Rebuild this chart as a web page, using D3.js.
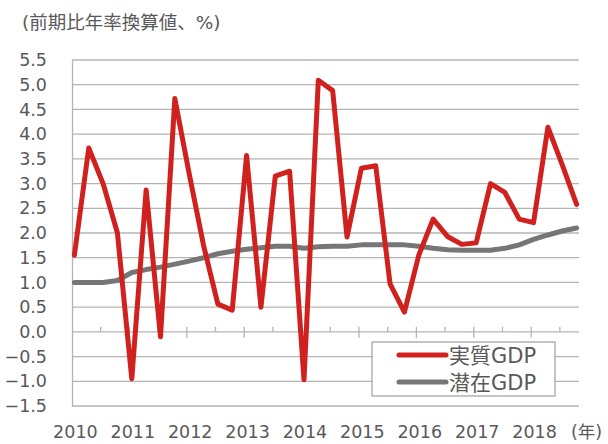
<!DOCTYPE html>
<html>
<head>
<meta charset="utf-8">
<script src="https://cdn.jsdelivr.net/npm/d3@7"></script>
<style>
  body { margin: 0; background: #fff; }
  svg { display: block; }
</style>
</head>
<body>
<div id="chart"></div>
<script>
// Data
//-------------------------------------------------------
// quarterly, 2010Q1 .. 2018Q4
var years = ["2010", "2011", "2012", "2013", "2014", "2015", "2016", "2017", "2018"];
var realGDP = [
    1.55, 3.72, 3.0, 2.0,
    -0.95, 2.87, -0.1, 4.72,
    3.2, 1.75, 0.56, 0.44,
    3.57, 0.5, 3.15, 3.25,
    -0.97, 5.09, 4.88, 1.92,
    3.31, 3.36, 0.97, 0.4,
    1.55, 2.28, 1.93, 1.77,
    1.8, 3.0, 2.82, 2.28,
    2.21, 4.14, 3.38, 2.58
];
var potentialGDP = [
    1.0, 1.0, 1.0, 1.04,
    1.2, 1.26, 1.31, 1.37,
    1.43, 1.5, 1.58, 1.63,
    1.67, 1.7, 1.73, 1.73,
    1.69, 1.72, 1.73, 1.73,
    1.76, 1.76, 1.76, 1.76,
    1.73, 1.69, 1.66, 1.65,
    1.65, 1.65, 1.69, 1.76,
    1.87, 1.96, 2.04, 2.1
];
var yTicks = [-1.5, -1.0, -0.5, 0.0, 0.5, 1.0, 1.5, 2.0, 2.5, 3.0, 3.5, 4.0, 4.5, 5.0, 5.5];
var seriesNames = ["実質GDP", "潜在GDP"];
var seriesColors = ["#d0211f", "#767676"];

// SVG setup
//-------------------------------------------------------
var svgWidth = 608;
var svgHeight = 444;

var plot = { left: 72, right: 579, top: 60, bottom: 406 };

var textColor = "#595959";
var gridColor = "#b4b4b4";
var numFont = "'DejaVu Sans', Verdana, sans-serif";
var jpFont = "'DejaVu Sans', 'Noto Sans CJK JP', sans-serif";

var svg = d3.select("#chart")
    .append("svg")
    .attr("width", svgWidth)
    .attr("height", svgHeight);

// Scales (x in months from Jan 2010, points at mid-month of each quarter start)
//-------------------------------------------------------
var nMonths = realGDP.length * 3 - 2;
var xScale = d3.scaleLinear()
    .domain([0, nMonths])
    .range([plot.left, plot.right]);

var yScale = d3.scaleLinear()
    .domain([-1.5, 5.5])
    .range([plot.bottom, plot.top]);

var xOf = function(i) { return xScale(i * 3 + 0.5); };

// Title
//-------------------------------------------------------
svg.append("text")
    .attr("x", 22)
    .attr("y", 29)
    .attr("fill", textColor)
    .style("font-family", jpFont)
    .style("font-size", "18.5px")
    .text("(前期比年率換算値、%)");

// Gridlines
//-------------------------------------------------------
svg.append("g")
    .selectAll("line")
    .data(yTicks.filter(d => d !== 0))
    .enter()
    .append("line")
    .attr("x1", plot.left)
    .attr("x2", plot.right)
    .attr("y1", d => yScale(d))
    .attr("y2", d => yScale(d))
    .attr("stroke", gridColor)
    .attr("stroke-width", 1.3);

// Y axis
//-------------------------------------------------------
var leftAxis = d3.axisLeft(yScale)
    .tickValues(yTicks)
    .tickSize(0)
    .tickPadding(25)
    .tickFormat(d3.format(".1f"));

var yAxis = svg.append("g")
    .attr("transform", `translate(${plot.left}, 0)`)
    .call(leftAxis);

yAxis.select(".domain").attr("stroke", gridColor).attr("stroke-width", 1.3);
yAxis.selectAll("text")
    .attr("fill", textColor)
    .style("font-family", numFont)
    .style("font-size", "17.5px");

// X axis on the zero line: yearly ticks cross, half-year ticks inside
//-------------------------------------------------------
var zeroY = yScale(0);
var majorTicks = d3.range(12, nMonths, 12);
var minorTicks = d3.range(6, nMonths, 12);

var xAxisGroup = svg.append("g");

xAxisGroup.append("line")
    .attr("x1", plot.left)
    .attr("x2", plot.right)
    .attr("y1", zeroY)
    .attr("y2", zeroY)
    .attr("stroke", gridColor)
    .attr("stroke-width", 1.3);

xAxisGroup.selectAll(".major")
    .data(majorTicks)
    .enter()
    .append("line")
    .attr("class", "major")
    .attr("x1", d => xScale(d))
    .attr("x2", d => xScale(d))
    .attr("y1", zeroY - 5)
    .attr("y2", zeroY + 6)
    .attr("stroke", gridColor)
    .attr("stroke-width", 1.3);

xAxisGroup.selectAll(".minor")
    .data(minorTicks)
    .enter()
    .append("line")
    .attr("class", "minor")
    .attr("x1", d => xScale(d))
    .attr("x2", d => xScale(d))
    .attr("y1", zeroY - 5)
    .attr("y2", zeroY)
    .attr("stroke", gridColor)
    .attr("stroke-width", 1.3);

// Year labels under the plot
svg.append("g")
    .selectAll("text")
    .data(years)
    .enter()
    .append("text")
    .attr("x", (d, i) => xOf(i * 4) + 1)
    .attr("y", 438)
    .attr("text-anchor", "middle")
    .attr("fill", textColor)
    .style("font-family", numFont)
    .style("font-size", "17.5px")
    .text(d => d);

svg.append("text")
    .attr("x", 571)
    .attr("y", 438)
    .attr("fill", textColor)
    .style("font-family", jpFont)
    .style("font-size", "17.5px")
    .text("(年)");

// Lines
//-------------------------------------------------------
var line = d3.line()
    .x((d, i) => xOf(i))
    .y(d => yScale(d));

svg.append("path")
    .datum(potentialGDP)
    .attr("d", line)
    .attr("fill", "none")
    .attr("stroke", seriesColors[1])
    .attr("stroke-width", 5)
    .attr("stroke-linejoin", "round")
    .attr("stroke-linecap", "round");

svg.append("path")
    .datum(realGDP)
    .attr("d", line)
    .attr("fill", "none")
    .attr("stroke", seriesColors[0])
    .attr("stroke-width", 5)
    .attr("stroke-linejoin", "round")
    .attr("stroke-linecap", "round");

// Legend
//-------------------------------------------------------
var legend = svg.append("g")
    .attr("transform", "translate(372, 342)");

legend.append("rect")
    .attr("width", 183)
    .attr("height", 54)
    .attr("fill", "#fff")
    .attr("stroke", "#a6a6a6")
    .attr("stroke-width", 1.3);

var legendItems = legend.selectAll(".item")
    .data(seriesNames)
    .enter()
    .append("g")
    .attr("class", "item")
    .attr("transform", (d, i) => `translate(0, ${13 + i * 27})`);

legendItems.append("line")
    .attr("x1", 27)
    .attr("x2", 74)
    .attr("stroke", (d, i) => seriesColors[i])
    .attr("stroke-width", 5)
    .attr("stroke-linecap", "round");

legendItems.append("text")
    .attr("x", 77)
    .attr("y", 7.5)
    .attr("fill", textColor)
    .style("font-family", jpFont)
    .style("font-size", "21px")
    .text(d => d);
</script>
</body>
</html>
